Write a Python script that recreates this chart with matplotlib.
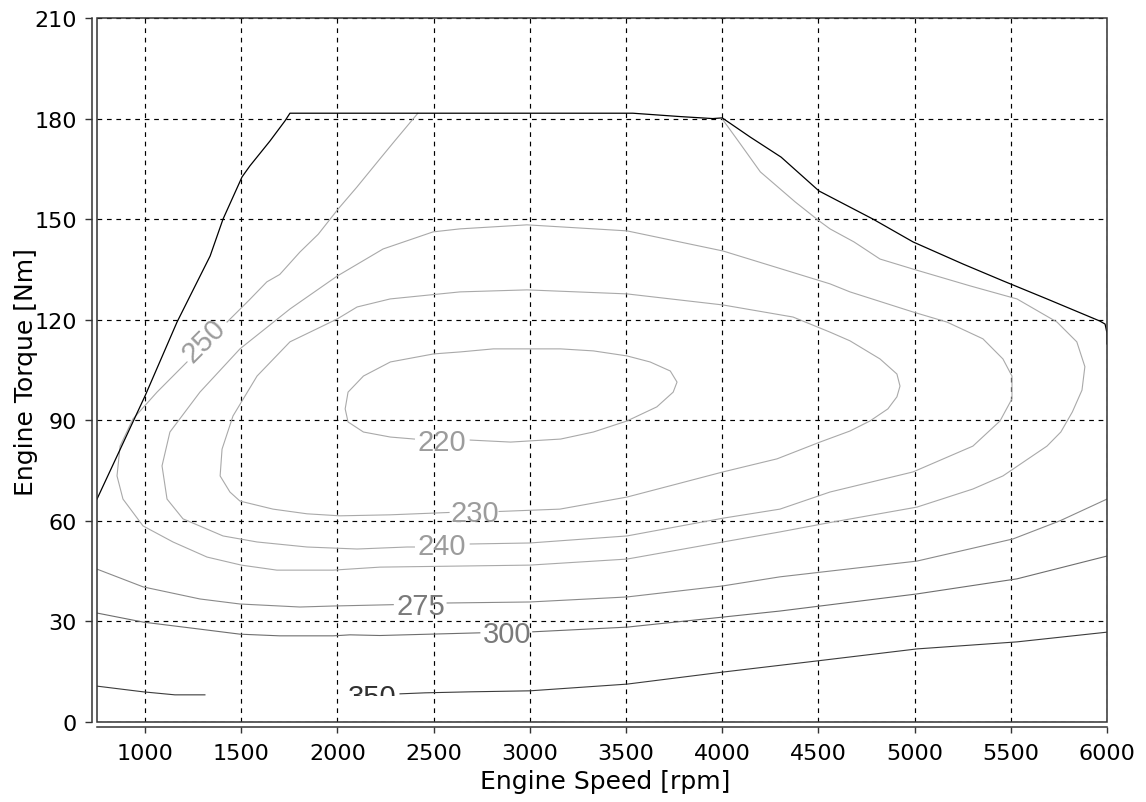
import matplotlib
matplotlib.use("Agg")
import matplotlib.pyplot as plt
from matplotlib.patches import Rectangle
from matplotlib.transforms import Bbox, TransformedBbox

plt.rcParams['font.family'] = ['DejaVu Sans']

# ---- axes ticks ----
speed_ticks = [1000, 1500, 2000, 2500, 3000, 3500, 4000, 4500, 5000, 5500, 6000]
torque_ticks = [0, 30, 60, 90, 120, 150, 180, 210]

# ---- full-load (max torque) curve ----
full_load_rpm = [750, 1000, 1166, 1234, 1338, 1405, 1504, 1545, 1649, 1727, 1753,
                 2500, 3000, 3535, 3780, 3950, 4000, 4145, 4306, 4503, 4784, 4992,
                 5252, 5459, 5688, 5963, 5990, 6000, 6000]
full_load_nm = [66.5, 97.3, 119.3, 127.1, 139.0, 150.0, 162.6, 165.9, 173.3, 179.3, 181.6,
                181.6, 181.6, 181.6, 180.6, 180.0, 180.2, 174.5, 168.5, 158.4, 150.0, 143.2,
                136.6, 131.6, 126.2, 119.6, 118.7, 116.0, 112.8]

# ---- BSFC iso-lines [g/kWh] ----
bsfc_220_rpm = [2690, 2900, 3160, 3330, 3505, 3660, 3745, 3765, 3730, 3625, 3505, 3330,
                3160, 2810, 2640, 2500, 2275, 2135, 2055, 2040, 2055, 2135, 2275, 2400]
bsfc_220_nm = [84.1, 83.5, 84.4, 86.5, 89.8, 94.0, 98.4, 101.4, 104.7, 107.4, 109.2, 110.7,
               111.3, 111.3, 110.4, 109.8, 107.4, 103.2, 98.4, 93.4, 89.5, 86.5, 85.0, 84.4]

bsfc_230_rpm = [2840, 3156, 3505, 3765, 4004, 4285, 4508, 4664, 4768, 4861, 4908, 4924,
                4908, 4820, 4664, 4560, 4368, 4004, 3505, 2985, 2637, 2274, 2102, 1998,
                1753, 1582, 1457, 1400, 1390, 1441, 1493, 1665, 1842, 2013, 2274, 2580]
bsfc_230_nm = [62.8, 63.5, 67.1, 71.0, 74.6, 78.5, 83.5, 86.8, 89.8, 93.4, 97.0, 100.2,
               103.8, 108.3, 113.7, 116.3, 120.8, 124.4, 127.7, 128.9, 128.3, 126.2, 123.8, 120.2,
               113.4, 103.2, 91.3, 81.4, 73.4, 68.6, 65.9, 63.5, 62.1, 61.5, 61.8, 62.5]

bsfc_240_rpm = [2690, 3000, 3505, 4004, 4300, 4560, 4992, 5303, 5444, 5506, 5506, 5459,
                5355, 5168, 4992, 4664, 4560, 4004, 3505, 2985, 2637, 2497, 2237, 1998,
                1753, 1493, 1285, 1129, 1088, 1114, 1197, 1405, 1582, 1842, 2102, 2362, 2400]
bsfc_240_nm = [53.1, 53.4, 55.5, 60.8, 63.5, 68.6, 74.6, 82.3, 89.8, 96.4, 103.2, 108.3,
               114.3, 119.3, 122.3, 128.3, 130.7, 140.5, 146.5, 148.3, 147.1, 146.2, 141.1, 133.0,
               123.2, 111.3, 98.4, 86.5, 76.4, 66.5, 60.6, 55.5, 53.7, 52.2, 51.6, 52.2, 52.2]

bsfc_250a_rpm = [2418, 2300, 2221, 2100, 2003, 1900, 1805, 1700, 1633, 1540, 1426]
bsfc_250a_nm = [181.6, 173.5, 168.0, 159.5, 153.0, 145.5, 140.2, 133.5, 131.3, 125.8, 119.3]
bsfc_250b_rpm = [1218, 1062, 937, 870, 854, 885, 989, 1145, 1322, 1500, 1685, 1977, 2221,
                 3000, 3505, 4004, 4300, 4560, 5012, 5303, 5459, 5688, 5760, 5820, 5870,
                 5885, 5843, 5740, 5532, 5288, 4992, 4820, 4685, 4560, 4503, 4380, 4198,
                 4087, 4000]
bsfc_250b_nm = [107.4, 98.4, 90.4, 82.3, 73.4, 66.5, 58.5, 53.7, 49.2, 46.8, 45.3, 45.3, 46.2,
                46.8, 48.6, 53.7, 56.7, 59.5, 64.1, 69.5, 73.4, 82.3, 86.5, 92.5, 99.0,
                106.0, 113.4, 119.3, 126.2, 130.1, 135.1, 138.1, 143.2, 147.1, 149.5, 155.1, 164.1,
                173.0, 179.9]

bsfc_275a_rpm = [750, 990, 1285, 1493, 1805, 1977, 2290]
bsfc_275a_nm = [45.6, 40.3, 36.7, 35.2, 34.3, 34.6, 35.0]
bsfc_275b_rpm = [2570, 3000, 3505, 4004, 4300, 5012, 5511, 5755, 6000]
bsfc_275b_nm = [35.5, 35.8, 37.3, 40.6, 43.3, 48.0, 54.6, 60.0, 66.5]

bsfc_300a_rpm = [750, 990, 1285, 1493, 1700, 1977, 2065, 2221, 2740]
bsfc_300a_nm = [32.5, 29.8, 27.7, 26.2, 25.7, 25.7, 26.0, 25.8, 26.6]
bsfc_300b_rpm = [3015, 3505, 4004, 4300, 5012, 5532, 6000]
bsfc_300b_nm = [26.9, 28.3, 31.3, 33.1, 38.2, 42.7, 49.5]

bsfc_350a_rpm = [750, 990, 1155, 1311]
bsfc_350a_nm = [10.7, 9.0, 8.1, 8.1]
bsfc_350b_rpm = [2325, 2455, 2689, 3000, 3505, 4004, 4490, 5012, 5532, 6000]
bsfc_350b_nm = [8.4, 8.7, 9.0, 9.3, 11.3, 14.9, 18.2, 21.8, 23.9, 26.8]

# label texts and anchor points (rpm, Nm, rotation)
label_text = ['220', '230', '240', '250', '275', '300', '350']
label_rpm = [2543, 2712, 2543, 1307, 2434, 2880, 2180]
label_nm = [83.6, 62.2, 52.6, 114.0, 34.6, 26.2, 7.4]
label_rot = [0, 0, 0, 45, 0, 0, 0]

light = '#a9a9a9'
label_light = '#9c9c9c'

fig = plt.figure(figsize=(11.46, 8.03), dpi=100)
ax = fig.add_axes([97 / 1146, 80 / 803, (1107 - 97) / 1146, (723 - 19) / 803])

ax.set_xlim(750, 6000)
ax.set_ylim(0, 210)
ax.set_xticks(speed_ticks)
ax.set_yticks(torque_ticks)

ax.grid(True, color='black', linestyle=(0, (4, 4)), linewidth=0.85)
ax.set_axisbelow(True)

# iso-lines
lw = 0.8
ax.plot(bsfc_220_rpm, bsfc_220_nm, color=light, lw=lw)
ax.plot(bsfc_230_rpm, bsfc_230_nm, color=light, lw=lw)
ax.plot(bsfc_240_rpm, bsfc_240_nm, color=light, lw=lw)
ax.plot(bsfc_250a_rpm, bsfc_250a_nm, color=light, lw=lw)
ax.plot(bsfc_250b_rpm, bsfc_250b_nm, color=light, lw=lw)
ax.plot(bsfc_275a_rpm, bsfc_275a_nm, color='#8a8a8a', lw=lw)
ax.plot(bsfc_275b_rpm, bsfc_275b_nm, color='#8a8a8a', lw=lw)
ax.plot(bsfc_300a_rpm, bsfc_300a_nm, color='#6e6e6e', lw=lw)
ax.plot(bsfc_300b_rpm, bsfc_300b_nm, color='#6e6e6e', lw=lw)
ax.plot(bsfc_350a_rpm, bsfc_350a_nm, color='#3c3c3c', lw=lw)
ax.plot(bsfc_350b_rpm, bsfc_350b_nm, color='#3c3c3c', lw=lw)

# full-load curve
ax.plot(full_load_rpm, full_load_nm, color='black', lw=0.9)

label_colors = [label_light, label_light, label_light, label_light, '#7a7a7a', '#7a7a7a', '#303030']
for txt, x, y, rot, col in zip(label_text, label_rpm, label_nm, label_rot, label_colors):
    t = ax.text(x, y, txt, fontsize=21, color=col, rotation=rot,
                family=['Liberation Sans', 'DejaVu Sans'],
                ha='center', va='center', rotation_mode='anchor')
    if txt == '350':
        t.set_clip_on(True)
        t.set_clip_box(TransformedBbox(Bbox([[750, 7.8], [6000, 210]]), ax.transData))

# axes styling: offset axis lines plus a frame around the plot area
for side in ('top', 'right'):
    ax.spines[side].set_visible(False)
for side in ('left', 'bottom'):
    ax.spines[side].set_position(('outward', 3.6))
    ax.spines[side].set_color('#333333')
    ax.spines[side].set_linewidth(1.1)
ax.add_patch(Rectangle((0, 0), 1, 1, transform=ax.transAxes, fill=False,
                       edgecolor='#333333', linewidth=1.1, clip_on=False, zorder=5))

ax.tick_params(axis='y', direction='out', length=5, width=1, color='#333333',
               labelsize=16, pad=6)
ax.tick_params(axis='x', direction='out', length=4, width=1, color='#333333',
               labelsize=16, pad=7.5)

ax.set_xlabel('Engine Speed [rpm]', fontsize=18)
ax.set_ylabel('Engine Torque [Nm]', fontsize=18)
ax.xaxis.set_label_coords((605 - 97) / 1010, (723 - 770) / 704)
ax.yaxis.set_label_coords((38 - 97) / 1010, (723 - 372) / 704)

fig.savefig('out.png', dpi=100)
